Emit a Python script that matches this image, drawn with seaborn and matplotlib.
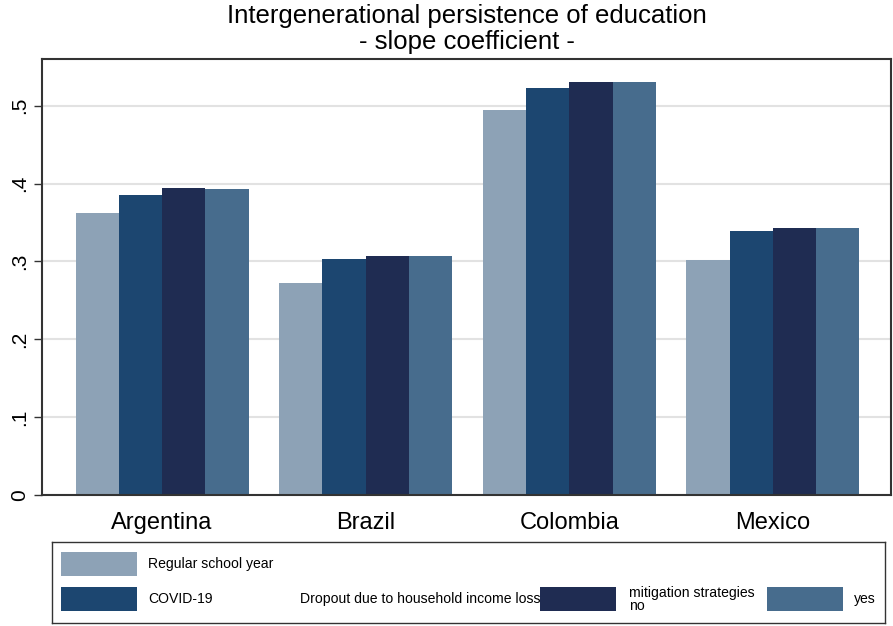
import seaborn as sns
import pandas as pd
import matplotlib
matplotlib.use("Agg")
from matplotlib import pyplot as plt
from matplotlib.patches import Rectangle

# Values
countries = ["Argentina", "Brazil", "Colombia", "Mexico"]
series = ["Regular school year", "COVID-19", "no", "yes"]
regular = [0.362, 0.272, 0.494, 0.302]
covid = [0.385, 0.303, 0.523, 0.339]
mitig_no = [0.394, 0.307, 0.531, 0.343]
mitig_yes = [0.393, 0.307, 0.530, 0.343]
colors = ["#8da2b6", "#1c4670", "#1f2c52", "#476c8d"]
yticks = [0, 0.1, 0.2, 0.3, 0.4, 0.5]
ytick_labels = ["0", ".1", ".2", ".3", ".4", ".5"]

rows = []
for vals, name in zip([regular, covid, mitig_no, mitig_yes], series):
    for c, v in zip(countries, vals):
        rows.append({"country": c, "series": name, "value": v})
df = pd.DataFrame(rows)

sns.set_style("white")
plt.rcParams['font.family'] = ['Liberation Sans', 'DejaVu Sans']
plt.rcParams['text.color'] = 'black'
plt.rcParams['xtick.color'] = 'black'
plt.rcParams['ytick.color'] = 'black'

fig = plt.figure(figsize=(8.93, 6.26), dpi=100)
ax = fig.add_axes([42 / 893, 1 - 495 / 626, (891 - 42) / 893, (495 - 59) / 626])

sns.barplot(data=df, x="country", y="value", hue="series", palette=colors,
            width=0.85, linewidth=0, saturation=1, ax=ax, legend=False)

ax.set_xlim(-0.59, 3.58)
ax.set_ylim(0, 0.56)
ax.set_yticks(yticks)
ax.set_yticklabels(ytick_labels, rotation=90, va="center", fontsize=15)
ax.tick_params(axis="y", left=True, length=6, width=1, color="#333333", pad=3)
ax.tick_params(axis="x", bottom=False, labelsize=17, pad=9)
ax.set_xlabel("")
ax.set_ylabel("")
ax.grid(axis="y", color="#e2e2e2", linewidth=1.5)
ax.set_axisbelow(True)
for s in ax.spines.values():
    s.set_color("#333333")
    s.set_linewidth(1.5)
    s.set_visible(True)

fig.text(467 / 893, 1 - 16 / 626, "Intergenerational persistence of education",
         ha="center", va="center", fontsize=18.5)
fig.text(467 / 893, 1 - 42 / 626, "- slope coefficient -",
         ha="center", va="center", fontsize=18.5)

# Stata-style legend box
lg = fig.add_axes([52 / 893, 1 - 623 / 626, (885 - 52) / 893, (623 - 542) / 626])
lg.set_xlim(52, 885)
lg.set_ylim(623, 542)
lg.set_xticks([])
lg.set_yticks([])
for s in lg.spines.values():
    s.set_color("#333333")
    s.set_linewidth(1)

fs = 10.1
lg.add_patch(Rectangle((61, 552), 76, 24, color=colors[0], lw=0))
lg.text(148, 564, "Regular school year", va="center", fontsize=fs)
lg.add_patch(Rectangle((61, 587), 76, 24, color=colors[1], lw=0))
lg.text(148, 599, "COVID-19", va="center", fontsize=fs)
lg.text(300, 599, "Dropout due to household income loss", va="center", fontsize=fs)
lg.add_patch(Rectangle((540, 587), 76, 24, color=colors[2], lw=0))
lg.text(629, 593, "mitigation strategies", va="center", fontsize=fs)
lg.text(629, 606, "no", va="center", fontsize=fs)
lg.add_patch(Rectangle((767, 587), 76, 24, color=colors[3], lw=0))
lg.text(854, 599, "yes", va="center", fontsize=fs)

fig.savefig("out.png", dpi=100)
